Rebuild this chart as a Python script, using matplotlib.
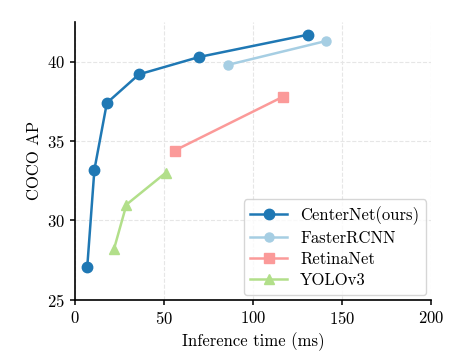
import matplotlib
matplotlib.use('Agg')
import matplotlib.pyplot as plt

# Values
centernet_time = [7, 11, 18, 36, 70, 131]
centernet_ap = [27.1, 33.2, 37.4, 39.2, 40.3, 41.7]
faster_time = [86, 141]
faster_ap = [39.8, 41.3]
retina_time = [56, 117]
retina_ap = [34.4, 37.8]
yolo_time = [22, 29, 51]
yolo_ap = [28.2, 31.0, 33.0]

plt.rcParams['font.family'] = 'serif'
plt.rcParams['font.serif'] = ['cmr10', 'DejaVu Serif']
plt.rcParams['mathtext.fontset'] = 'cm'
plt.rcParams['axes.formatter.use_mathtext'] = True

fig = plt.figure(figsize=(4.59, 3.6), dpi=100)
ax = fig.add_axes([0.163, 0.167, 0.776, 0.772])

ax.plot(centernet_time, centernet_ap, '-o', color='#1f78b4', lw=1.8, ms=7.5, label='CenterNet(ours)')
ax.plot(faster_time, faster_ap, '-o', color='#a6cee3', lw=1.8, ms=6.5, label='FasterRCNN')
ax.plot(retina_time, retina_ap, '-s', color='#fb9a99', lw=1.8, ms=7, label='RetinaNet')
ax.plot(yolo_time, yolo_ap, '-^', color='#b2df8a', lw=1.8, ms=7.5, label='YOLOv3')

ax.set_xlim(0, 200)
ax.set_ylim(25, 42.5)
ax.set_xticks([0, 50, 100, 150, 200])
ax.set_yticks([25, 30, 35, 40])
ax.set_xlabel('Inference time (ms)', fontsize=12)
ax.set_ylabel('COCO AP', fontsize=12)
ax.tick_params(labelsize=12, width=1.1)

ax.grid(True, ls='--', color='#e6e6e6', lw=0.8)
ax.set_axisbelow(True)
ax.spines['top'].set_visible(False)
ax.spines['right'].set_visible(False)
ax.spines['left'].set_linewidth(1.2)
ax.spines['bottom'].set_linewidth(1.2)

ax.legend(loc='lower right', fontsize=12, handlelength=2.2, borderaxespad=0.3,
          labelspacing=0.35)

fig.savefig('out.png', dpi=100)
